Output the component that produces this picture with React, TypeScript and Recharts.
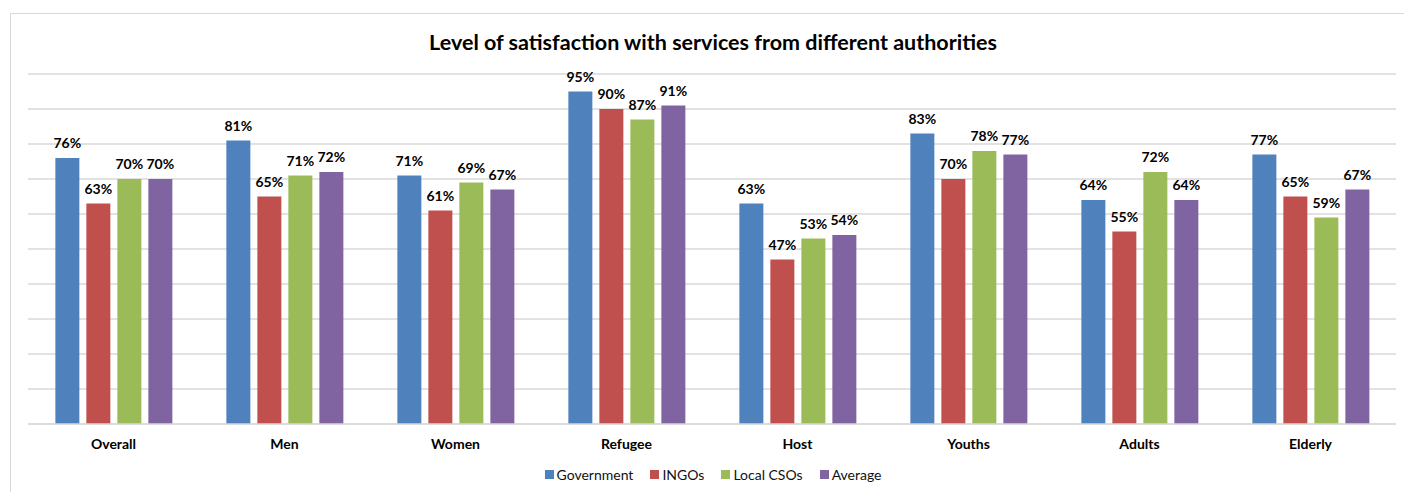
import { BarChart, Bar, XAxis, YAxis, CartesianGrid, LabelList } from "recharts";

const categories = ["Overall", "Men", "Women", "Refugee", "Host", "Youths", "Adults", "Elderly"];
const government = [76, 81, 71, 95, 63, 83, 64, 77];
const ingos = [63, 65, 61, 90, 47, 70, 55, 65];
const localCsos = [70, 71, 69, 87, 53, 78, 72, 59];
const average = [70, 72, 67, 91, 54, 77, 64, 67];
const yTicks = [0, 10, 20, 30, 40, 50, 60, 70, 80, 90, 100];

const SERIES = [
  { key: "government", name: "Government", color: "#4F81BD" },
  { key: "ingos", name: "INGOs", color: "#C0504D" },
  { key: "localCsos", name: "Local CSOs", color: "#9BBB59" },
  { key: "average", name: "Average", color: "#8064A2" },
];

const data = categories.map((name, i) => ({
  name,
  government: government[i],
  ingos: ingos[i],
  localCsos: localCsos[i],
  average: average[i],
}));

const FONT = "Lato, 'Open Sans', sans-serif";

export default function App() {
  return (
    <div style={{ position: "absolute", left: 0, top: 0, width: 1404, height: 492, background: "#fff", overflow: "hidden" }}>
      <div
        style={{
          position: "absolute",
          left: 10,
          top: 13,
          width: 1420,
          height: 500,
          border: "1px solid #d9d9d9",
          boxSizing: "border-box",
        }}
      />
      <div
        style={{
          position: "absolute",
          left: 0,
          width: 1426,
          top: 29,
          textAlign: "center",
          fontFamily: FONT,
          fontWeight: 700,
          fontSize: 21.5,
          color: "#000",
        }}
      >
        Level of satisfaction with services from different authorities
      </div>
      <div style={{ position: "absolute", left: 0, top: 0 }}>
        <BarChart
          width={1404}
          height={492}
          data={data}
          margin={{ top: 74, right: 8, left: 28, bottom: 38 }}
          barGap={7}
          barCategoryGap="16%"
        >
          <CartesianGrid horizontal vertical={false} stroke="#d9d9d9" strokeWidth={1.5} />
          <YAxis hide domain={[0, 100]} ticks={yTicks} />
          <XAxis
            dataKey="name"
            tickLine={false}
            axisLine={{ stroke: "#d9d9d9", strokeWidth: 1.5 }}
            tickMargin={9}
            tick={{ fill: "#000", fontSize: 14, fontWeight: 700, fontFamily: FONT }}
          />
          {SERIES.map((s) => (
            <Bar key={s.key} dataKey={s.key} name={s.name} fill={s.color} isAnimationActive={false}>
              <LabelList
                dataKey={s.key}
                position="top"
                offset={10}
                formatter={(v: number) => `${v}%`}
                style={{ fill: "#000", fontSize: 14, fontWeight: 700, fontFamily: FONT }}
              />
            </Bar>
          ))}
        </BarChart>
      </div>
      <div
        style={{
          position: "absolute",
          top: 466,
          left: 0,
          width: 1426,
          display: "flex",
          justifyContent: "center",
          gap: 17,
          fontFamily: FONT,
          fontSize: 14,
          color: "#111",
        }}
      >
        {SERIES.map((s) => (
          <span key={s.key} style={{ display: "inline-flex", alignItems: "center" }}>
            <span style={{ width: 9, height: 9, background: s.color, marginRight: 3, display: "inline-block" }} />
            {s.name}
          </span>
        ))}
      </div>
    </div>
  );
}
